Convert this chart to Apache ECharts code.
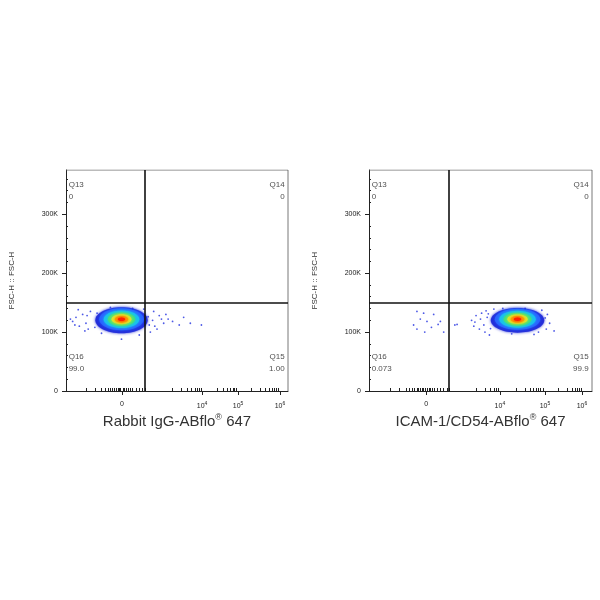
<!DOCTYPE html>
<html><head><meta charset="utf-8">
<script src="https://cdn.jsdelivr.net/npm/echarts@6/dist/echarts.min.js"></script>
<style>html,body{margin:0;background:#fff}#c{width:600px;height:600px}</style>
</head><body><div id="c"></div>
<script>
// x axis is in display channel units (0..1000) of a biexponential scale
const xTickValsL = [252, 613, 775, 964];
const xTickValsR = [256, 587, 789, 955];
const xTickLabels = ['0', '10{s|4}', '10{s|5}', '10{s|6}'];
const xMinorL = [90,130,160,175,190,200,210,218,226,234,240,246,258,264,272,280,290,300,315,330,345,356,480,520,545,565,580,592,600,607,680,710,728,742,752,760,767,835,875,898,914,927,937,946,955];
const xMinorR = [95,135,165,180,195,205,215,223,231,239,245,251,261,268,276,284,294,305,320,335,350,359,480,520,545,560,572,580,660,700,722,738,750,760,770,780,850,890,910,925,935,943,950];
const yTickVals = [0, 100000, 200000, 300000];
const yTickLabels = ['0', '100K', '200K', '300K'];
const yMinor = [20000,40000,60000,80000,120000,140000,160000,180000,220000,240000,260000,280000,320000,340000,360000];
const quadX = [356, 359];
const quadY = 150000;
const quadNames = [['Q13','Q14','Q15','Q16'],['Q13','Q14','Q15','Q16']];
const quadValues = [['0','0','1.00','99.0'],['0','0','99.9','0.073']];
const xTitles = ['Rabbit IgG-ABflo', 'ICAM-1/CD54-ABflo'];
// population core: [centerX, centerY, radiusX, radiusY]
const coreL = [[250, 120000, 118, 22000]];
const coreR = [[666, 120000, 120, 21000]];
const strayL = [[30,118000],[45,125000],[60,110000],[75,130000],[90,115000],[100,105000],[110,135000],[20,122000],[55,138000],[85,102000],[40,112000],[95,128000],[130,108000],[140,132000],
 [390,120000],[400,110000],[420,128000],[440,115000],[460,122000],[480,118000],[510,112000],[530,125000],[395,135000],[410,105000],[380,100000],[450,130000],[370,126000],[375,112000],[430,122000],
 [560,115000],[610,112000],[330,95000],[250,88000],[300,140000],[200,142000],[160,98000],[350,139000]];
const strayR = [[215,135000],[245,132000],[230,122000],[260,118000],[200,112000],[215,105000],[250,100000],[280,108000],[290,130000],[310,113000],[335,100000],[320,118000],[385,112000],[395,113000],
 [460,120000],[470,110000],[480,128000],[495,105000],[505,132000],[520,100000],[530,125000],[540,95000],[475,117000],[500,122000],[515,112000],[525,136000],[545,106000],[535,131000],
 [800,130000],[810,115000],[795,105000],[830,102000],[775,137000],[700,140000],[600,140000],[640,97000],[760,100000],[790,124000],[560,139000],[740,96000]];
const densityFrac = [1, 0.85, 0.68, 0.52, 0.38, 0.26, 0.14];
const densityColors = ['#1e28d8','#2a64ff','#18c0f0','#40e080','#d8e830','#ff9a00','#ff2000'];

const grids = [{left:66, top:170, width:222, height:221},{left:369, top:170, width:223, height:221}];
const font = 'Liberation Sans';
const xAxes = [], yAxes = [], series = [];
const tickVals = [xTickValsL, xTickValsR], minors = [xMinorL, xMinorR], cores=[coreL,coreR], strays=[strayL,strayR];
grids.forEach((g,i)=>{
  const tv = tickVals[i];
  xAxes.push({gridIndex:i, type:'value', min:0, max:1000, name:'{a|'+xTitles[i]+'}{s|®}{a| 647}', nameLocation:'middle', nameGap:22,
    nameTextStyle:{rich:{a:{fontSize:15, color:'#333', fontFamily:font}, s:{fontSize:9, color:'#333', fontFamily:font, verticalAlign:'top', padding:[0,0,8,0]}}},
    axisLine:{lineStyle:{color:'#222'}}, splitLine:{show:false},
    axisTick:{customValues:tv, length:4, lineStyle:{color:'#222'}},
    axisLabel:{customValues:tv, fontSize:7, color:'#222', fontFamily:font, margin:10,
      formatter:v=>xTickLabels[tv.indexOf(v)], rich:{s:{fontSize:5, color:'#222', verticalAlign:'top', padding:[0,0,6,0]}}}});
  xAxes.push({gridIndex:i, type:'value', min:0, max:1000, axisLine:{show:false}, splitLine:{show:false}, axisLabel:{show:false},
    axisTick:{customValues:minors[i], length:3, lineStyle:{color:'#222'}}});
  yAxes.push({gridIndex:i, type:'value', min:0, max:375000, name:'FSC-H :: FSC-H', nameLocation:'middle', nameGap:50,
    nameTextStyle:{fontSize:8, color:'#333', fontFamily:font},
    axisLine:{show:true, lineStyle:{color:'#222'}}, splitLine:{show:false},
    axisTick:{customValues:yTickVals, length:4, lineStyle:{color:'#222'}},
    axisLabel:{customValues:yTickVals, fontSize:7, color:'#222', fontFamily:font, formatter:v=>yTickLabels[yTickVals.indexOf(v)]}});
  yAxes.push({gridIndex:i, type:'value', min:0, max:375000, axisLine:{show:false}, splitLine:{show:false}, axisLabel:{show:false},
    axisTick:{show:true, customValues:yMinor, length:2, lineStyle:{color:'#222'}}});
  series.push({type:'line', xAxisIndex:2*i, yAxisIndex:2*i, data:[[0,375000],[1000,375000],[1000,0]], symbol:'none', silent:true,
    lineStyle:{color:'#555', width:0.8}});
  series.push({type:'custom', xAxisIndex:2*i, yAxisIndex:2*i, data:cores[i], renderItem:(p,api)=>{
    const c = api.coord([api.value(0), api.value(1)]);
    const s = api.size([api.value(2), api.value(3)]);
    return {type:'group', children: densityFrac.map((f,k)=>({type:'ellipse',
      shape:{cx:c[0], cy:c[1]+ (k>0?-1:0), rx:s[0]*f, ry:s[1]*f},
      style:{fill:densityColors[k], shadowBlur:3, shadowColor:densityColors[k], opacity:k===0?0.9:1}}))};
  }});
  series.push({type:'scatter', xAxisIndex:2*i, yAxisIndex:2*i, data:strays[i], symbolSize:1.8, itemStyle:{color:'#2030e0'}, silent:true,
    markLine:{silent:true, symbol:'none', label:{show:false}, lineStyle:{color:'#111', width:1.6, type:'solid'},
      data:[{xAxis:quadX[i]},{yAxis:quadY}]}});
  const qpos = [[12,340000,'left'],[985,340000,'right'],[985,48000,'right'],[12,48000,'left']];
  series.push({type:'scatter', xAxisIndex:2*i, yAxisIndex:2*i, symbolSize:0, silent:true,
    data:qpos.map((q,k)=>({value:[q[0],q[1]], label:{show:true, position:'inside', align:q[2], formatter:quadNames[i][k]+'\n'+quadValues[i][k],
      fontSize:8, lineHeight:12, color:'#222', fontFamily:font}}))});
});
const chart = echarts.init(document.getElementById('c'));
chart.setOption({animation:false, backgroundColor:'#fff', grid:grids, xAxis:xAxes, yAxis:yAxes, series});
</script></body></html>
